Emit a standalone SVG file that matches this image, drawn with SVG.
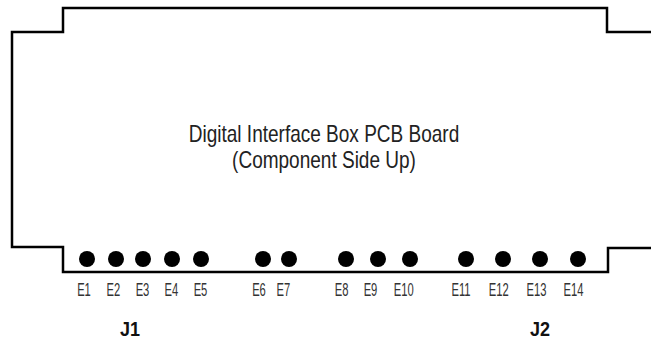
<svg xmlns="http://www.w3.org/2000/svg" width="651" height="339" viewBox="0 0 651 339">
<style>
.o{fill:none;stroke:#000;stroke-width:2.5}
.d{fill:#000}
text{font-family:"Liberation Sans",Arial,sans-serif;fill:#222;text-anchor:middle}
.e{font-size:17.5px;fill:#333}
.t{font-size:23px}
.j{font-size:20px;font-weight:bold;fill:#111}
</style>
<rect width="651" height="339" fill="#fff"/>
<g id="connectors"/>
<g id="board">
<path class="o" d="M651 32H607V8H63V32H12V247H63V272H608V248H651"/>
<text class="t" transform="translate(324 142) scale(.827 1)">Digital Interface Box PCB Board</text>
<text class="t" transform="translate(324 168) scale(.827 1)">(Component Side Up)</text>
</g>
<g id="E1"><circle class="d" cx="87" cy="259" r="8"/><text class="e" transform="translate(84 296) scale(.64 1)">E1</text></g>
<g id="E2"><circle class="d" cx="116" cy="259" r="8"/><text class="e" transform="translate(113.3 296) scale(.64 1)">E2</text></g>
<g id="E3"><circle class="d" cx="143" cy="259" r="8"/><text class="e" transform="translate(142.5 296) scale(.64 1)">E3</text></g>
<g id="E4"><circle class="d" cx="172" cy="259" r="8"/><text class="e" transform="translate(171.3 296) scale(.64 1)">E4</text></g>
<g id="E5"><circle class="d" cx="201" cy="259" r="8"/><text class="e" transform="translate(200.5 296) scale(.64 1)">E5</text></g>
<g id="E6"><circle class="d" cx="263" cy="259" r="8"/><text class="e" transform="translate(259 296) scale(.64 1)">E6</text></g>
<g id="E7"><circle class="d" cx="289" cy="259" r="8"/><text class="e" transform="translate(283.3 296) scale(.64 1)">E7</text></g>
<g id="E8"><circle class="d" cx="346" cy="259" r="8"/><text class="e" transform="translate(341.7 296) scale(.64 1)">E8</text></g>
<g id="E9"><circle class="d" cx="378" cy="259" r="8"/><text class="e" transform="translate(370.5 296) scale(.64 1)">E9</text></g>
<g id="E10"><circle class="d" cx="410" cy="259" r="8"/><text class="e" transform="translate(403.7 296) scale(.64 1)">E10</text></g>
<g id="E11"><circle class="d" cx="466" cy="259" r="8"/><text class="e" transform="translate(461 296) scale(.64 1)">E11</text></g>
<g id="E12"><circle class="d" cx="503" cy="259" r="8"/><text class="e" transform="translate(498.7 296) scale(.64 1)">E12</text></g>
<g id="E13"><circle class="d" cx="540" cy="259" r="8"/><text class="e" transform="translate(536.5 296) scale(.64 1)">E13</text></g>
<g id="E14"><circle class="d" cx="578" cy="259" r="8"/><text class="e" transform="translate(573.5 296) scale(.64 1)">E14</text></g>
<g id="J1"><text class="j" transform="translate(130 336) scale(.9 1)">J1</text></g>
<g id="J2"><text class="j" transform="translate(540 336) scale(.9 1)">J2</text></g>
</svg>
